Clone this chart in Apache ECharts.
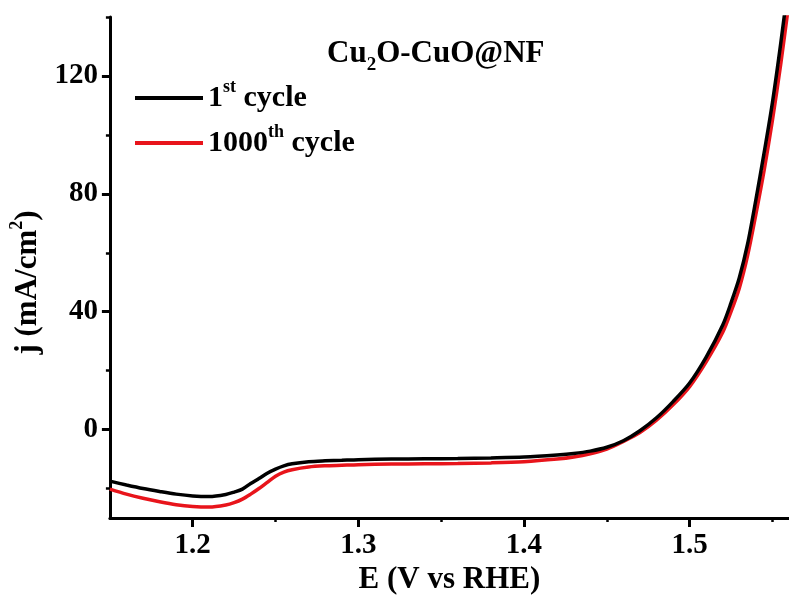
<!DOCTYPE html>
<html>
<head>
<meta charset="utf-8">
<script src="https://cdn.jsdelivr.net/npm/echarts@6/dist/echarts.min.js"></script>
<style>
  html, body { margin: 0; padding: 0; background: #fff; }
  #chart { width: 789px; height: 601px; }
</style>
</head>
<body>
<div id="chart"></div>
<script>
// E (V vs RHE)
const potential = [1.15, 1.16, 1.17, 1.18, 1.19, 1.20, 1.21, 1.22, 1.225, 1.23, 1.235, 1.24, 1.245, 1.25, 1.255, 1.26,
  1.27, 1.28, 1.29, 1.30, 1.32, 1.34, 1.36, 1.38, 1.40, 1.42, 1.43, 1.44, 1.45, 1.46, 1.47, 1.48, 1.49, 1.50,
  1.51, 1.52, 1.525, 1.53, 1.535, 1.54, 1.545, 1.55, 1.555, 1.56];
// j (mA/cm2)
const cycle1st = [-17.5, -18.8, -20.0, -21.0, -21.9, -22.5, -22.7, -22.0, -21.2, -20.2, -18.3, -16.6, -14.8, -13.4, -12.3, -11.6,
  -10.9, -10.6, -10.4, -10.2, -10.0, -9.9, -9.8, -9.6, -9.3, -8.6, -8.1, -7.3, -6.0, -3.8, -0.4, 4.0, 9.5, 15.8,
  24.6, 35.5, 43, 51.5, 63, 78, 94, 111, 131, 153];
const cycle1000th = [-20.2, -21.9, -23.3, -24.5, -25.5, -26.1, -26.3, -25.6, -24.8, -23.6, -21.9, -20.0, -17.9, -15.8, -14.4, -13.6,
  -12.7, -12.3, -12.1, -11.9, -11.7, -11.6, -11.5, -11.3, -10.9, -10.0, -9.3, -8.2, -6.6, -4.0, -1.0, 3.2, 8.4, 14.6,
  23.0, 33.0, 40, 48, 59, 73, 88, 105, 124, 145];

const xLabelTicks = [1.2, 1.3, 1.4, 1.5];
const xMinorTicks = [1.25, 1.35, 1.45, 1.55];
const yLabelTicks = [0, 40, 80, 120];
const yMinorTicks = [-20, 20, 60, 100, 140];

const font = 'Liberation Serif';
const txt = { fontFamily: font, fontWeight: 'bold', fontSize: 30, color: '#000' };
const big = { fontFamily: font, fontWeight: 'bold', fontSize: 31, color: '#000' };
const sup = { fontFamily: font, fontWeight: 'bold', fontSize: 18, color: '#000', padding: [0, 0, 22, 0] };
const sub = { fontFamily: font, fontWeight: 'bold', fontSize: 19, color: '#000', padding: [24, 0, 0, 0] };

const axisLine = { show: true, onZero: false, lineStyle: { color: '#000', width: 3 } };

const chart = echarts.init(document.getElementById('chart'));
chart.setOption({
  animation: false,
  backgroundColor: '#fff',
  title: {
    text: '{n|Cu}{sub|2}{n|O-CuO@NF}',
    left: 322,
    top: 27,
    textStyle: { rich: { n: big, sub: sub } }
  },
  legend: {
    data: ['1st cycle', '1000th cycle'],
    orient: 'vertical',
    left: 130,
    top: 73,
    icon: 'rect',
    itemWidth: 68,
    itemHeight: 4,
    itemGap: 10,
    formatter: name => name === '1st cycle' ? '{n|1}{sup|st}{n| cycle}' : '{n|1000}{sup|th}{n| cycle}',
    textStyle: { rich: { n: txt, sup: sup } }
  },
  grid: { left: 107, top: 17, bottom: 83, right: -5 },
  xAxis: [{
    type: 'value',
    min: 1.15,
    max: 1.56,
    name: 'E (V vs RHE)',
    nameLocation: 'middle',
    nameGap: 42,
    nameTextStyle: big,
    axisLine: axisLine,
    axisTick: { show: true, length: 9, lineStyle: { color: '#000', width: 3 }, customValues: xLabelTicks },
    axisLabel: { show: true, margin: 13, customValues: xLabelTicks, formatter: v => v.toFixed(1), ...txt, fontSize: 29 },
    splitLine: { show: false }
  }, {
    type: 'value',
    position: 'bottom',
    min: 1.15,
    max: 1.56,
    axisLine: { show: false, onZero: false },
    axisTick: { show: true, length: 4, lineStyle: { color: '#000', width: 2.5 }, customValues: xMinorTicks },
    axisLabel: { show: false },
    splitLine: { show: false }
  }],
  yAxis: [{
    type: 'value',
    min: -30,
    max: 140,
    name: '{n|j (mA/cm}{sup|2}{n|)}',
    nameLocation: 'middle',
    nameGap: 50,
    nameRotate: 90,
    nameTextStyle: { padding: [0, 30, 0, 0], rich: { n: big, sup: sup } },
    axisLine: axisLine,
    axisTick: { show: true, length: 8, lineStyle: { color: '#000', width: 3 }, customValues: yLabelTicks },
    axisLabel: { show: true, margin: 12, customValues: yLabelTicks, ...txt, fontSize: 29 },
    splitLine: { show: false }
  }, {
    type: 'value',
    position: 'left',
    min: -30,
    max: 140,
    axisLine: { show: false, onZero: false },
    axisTick: { show: true, length: 4, lineStyle: { color: '#000', width: 2.5 }, customValues: yMinorTicks },
    axisLabel: { show: false },
    splitLine: { show: false }
  }],
  series: [{
    name: '1000th cycle',
    type: 'line',
    data: potential.map((e, i) => [e, cycle1000th[i]]),
    showSymbol: false,
    symbol: 'none',
    smooth: 0.3,
    color: '#e8141b',
    lineStyle: { color: '#e8141b', width: 3.5 }
  }, {
    name: '1st cycle',
    type: 'line',
    data: potential.map((e, i) => [e, cycle1st[i]]),
    showSymbol: false,
    symbol: 'none',
    smooth: 0.3,
    color: '#000',
    lineStyle: { color: '#000', width: 3.5 }
  }]
});
</script>
</body>
</html>
